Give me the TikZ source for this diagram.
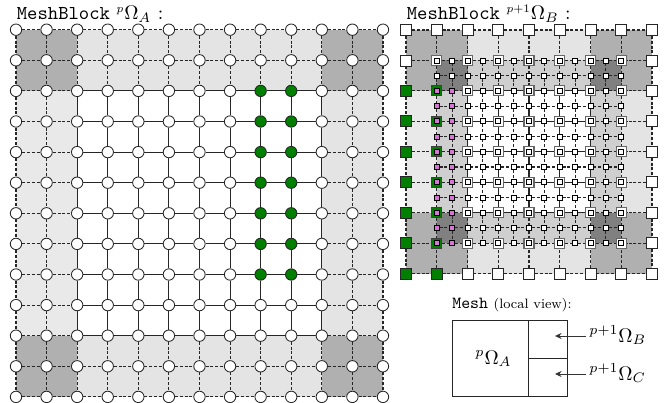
\documentclass[tikz,border=0pt]{standalone}
\usetikzlibrary{arrows.meta}
\pgfdeclarelayer{fills}
\pgfdeclarelayer{lines}
\pgfsetlayers{fills,lines,main}
\definecolor{gband}{HTML}{E4E4E4}
\definecolor{gside}{HTML}{E9E9E9}
\definecolor{gcorner}{HTML}{B0B0B0}
\definecolor{gmid}{HTML}{CFCFCF}
\definecolor{gdark}{HTML}{808080}
\definecolor{mgreen}{HTML}{007F00}
\definecolor{mpink}{HTML}{D874D8}
\tikzset{
  x=1pt,y=-1pt,
  solidline/.style={line width=1.1pt,draw=black!85},
  dashline/.style={line width=1.1pt,draw=black!85,dash pattern=on 3pt off 1.8pt},
  circ/.style={circle,draw=black!85,fill=white,line width=0.85pt,minimum size=11.4pt,inner sep=0pt},
  circgreen/.style={circ,fill=mgreen},
  bigsq/.style={rectangle,draw=black!85,fill=white,line width=0.85pt,minimum size=11pt,inner sep=0pt},
  bigsqgreen/.style={bigsq,fill=mgreen},
  ringsq/.style={rectangle,draw=black!60,fill=white,line width=1.2pt,minimum size=10pt,inner sep=0pt},
  ringsqgreen/.style={ringsq,draw=black!75,fill=mgreen},
  smallsq/.style={rectangle,draw=black,fill=white,line width=0.8pt,minimum size=5pt,inner sep=0pt},
  smallsqpink/.style={smallsq,fill=mpink},
  titletext/.style={anchor=base west,scale=1.97,inner sep=0pt},
  boxline/.style={draw=black!85,line width=1.1pt,minimum width=#1,inner sep=0pt},
  pointer/.style={line width=0.9pt,draw=black!80,-{Stealth[length=6.5pt,width=6pt]}},
}
% coordinates of the grids
\newcommand{\LX}[1]{\fpeval{16+30.58*(#1)}}
\newcommand{\LY}[1]{\fpeval{29.7+30.6*(#1)}}
\newcommand{\RX}[1]{\fpeval{406+30.75*(#1)}}
\newcommand{\RY}[1]{\fpeval{30+30.45*(#1)}}
\newcommand{\lcell}[5]{\fill[#5] (\LX{#1},\LY{#2}) rectangle (\LX{#3},\LY{#4});}
\newcommand{\rcell}[5]{\fill[#5] (\RX{#1},\RY{#2}) rectangle (\RX{#3},\RY{#4});}
\newcommand{\smsup}[1]{^{\scalebox{.83}{$\scriptstyle #1$}}}
\begin{document}
\begin{tikzpicture}
\useasboundingbox (0,0) rectangle (668,403);
% ---------- left block fills
\begin{pgfonlayer}{fills}
\fill[white] (0,0) rectangle (668,403);
\lcell{2}{0}{10}{2}{gband}
\lcell{2}{10}{10}{12}{gband}
\lcell{10}{2}{12}{10}{gband}
\lcell{0}{2}{2}{10}{gside}
\lcell{0}{0}{2}{2}{gcorner}
\lcell{10}{0}{12}{2}{gcorner}
\lcell{0}{10}{2}{12}{gcorner}
\lcell{10}{10}{12}{12}{gcorner}
% ---------- right block fills
\rcell{2}{0}{6}{2}{gband}
\rcell{2}{6}{6}{8}{gband}
\rcell{6}{2}{8}{6}{gband}
\rcell{0}{2}{2}{6}{gside}
\rcell{0}{0}{2}{2}{gcorner}
\rcell{6}{0}{8}{2}{gcorner}
\rcell{0}{6}{2}{8}{gcorner}
\rcell{6}{6}{8}{8}{gcorner}
\rcell{2}{1}{6}{2}{gmid}
\rcell{2}{6}{6}{7}{gmid}
\rcell{1}{2}{2}{6}{gmid}
\rcell{6}{2}{7}{6}{gmid}
\rcell{1}{1}{2}{2}{gdark}
\rcell{6}{1}{7}{2}{gdark}
\rcell{1}{6}{2}{7}{gdark}
\rcell{6}{6}{7}{7}{gdark}
\end{pgfonlayer}
% ---------- left block nodes
\foreach \i in {0,...,12}{\foreach \j in {0,...,12}{
  \def\sty{circ}
  \ifnum\i=8 \ifnum\j>1 \ifnum\j<9 \def\sty{circgreen}\fi\fi\fi
  \ifnum\i=9 \ifnum\j>1 \ifnum\j<9 \def\sty{circgreen}\fi\fi\fi
  \node[\sty] (a-\i-\j) at (\LX{\i},\LY{\j}) {};
}}
% left block connectors
\begin{pgfonlayer}{lines}
\foreach \i in {0,...,12}{\foreach \j in {0,...,11}{
  \pgfmathtruncatemacro\nx{\j+1}
  \def\sty{dashline}
  \ifnum\i>1 \ifnum\i<11 \ifnum\j>1 \ifnum\j<10 \def\sty{solidline}\fi\fi\fi\fi
  \draw[\sty] (a-\j-\i) -- (a-\nx-\i);
  \draw[\sty] (a-\i-\j) -- (a-\i-\nx);
}}
\end{pgfonlayer}
% ---------- right block: coarse nodes on the rim
\foreach \i in {0,...,8}{\foreach \j in {0,...,8}{
  \def\rim{1}
  \ifnum\i>0 \ifnum\i<8 \ifnum\j>0 \ifnum\j<8 \def\rim{0}\fi\fi\fi\fi
  \ifnum\rim=1
    \def\sty{bigsq}
    \ifnum\j>1 \ifnum\i<2 \def\sty{bigsqgreen}\fi\fi
    \node[\sty] (c-\i-\j) at (\RX{\i},\RY{\j}) {};
  \fi
}}
% right block: fine nodes (indices 0..12, one coarse cell in from the rim)
\foreach \i in {0,...,12}{\foreach \j in {0,...,12}{
  \pgfmathtruncatemacro\cx{\i+2}
  \pgfmathtruncatemacro\cy{\j+2}
  \pgfmathtruncatemacro\evn{(mod(\i,2)==0)&&(mod(\j,2)==0)}
  \def\sty{smallsq}\def\ring{ringsq}
  \ifnum\j>1 \ifnum\i<2 \def\sty{smallsqpink}\def\ring{ringsqgreen}\fi\fi
  \ifnum\evn=1
    \node[\ring] (f-\i-\j) at (\RX{\cx/2},\RY{\cy/2}) {};
    \node[\sty] (fi-\i-\j) at (f-\i-\j.center) {};
  \else
    \node[\sty] (f-\i-\j) at (\RX{\cx/2},\RY{\cy/2}) {};
  \fi
}}
% right block connectors
\begin{pgfonlayer}{lines}
\foreach \a/\b in {0/1,1/2,2/3,3/4,4/5,5/6,6/7,7/8}{
  \draw[dashline] (c-\a-0) -- (c-\b-0);
  \draw[dashline] (c-\a-8) -- (c-\b-8);
  \draw[dashline] (c-0-\a) -- (c-0-\b);
  \draw[dashline] (c-8-\a) -- (c-8-\b);
}
\foreach \c/\f in {1/0,2/2,3/4,4/6,5/8,6/10,7/12}{
  \draw[dashline] (c-0-\c) -- (f-0-\f);
  \draw[dashline] (c-8-\c) -- (f-12-\f);
  \draw[dashline] (c-\c-0) -- (f-\f-0);
  \draw[dashline] (c-\c-8) -- (f-\f-12);
}
\foreach \i in {0,...,12}{\foreach \j in {0,...,11}{
  \pgfmathtruncatemacro\nx{\j+1}
  \pgfmathtruncatemacro\odd{mod(\i,2)}
  \def\sty{dashline}
  \ifnum\odd=0 \ifnum\i>1 \ifnum\i<11 \ifnum\j>1 \ifnum\j<10 \def\sty{solidline}\fi\fi\fi\fi\fi
  \draw[\sty] (f-\j-\i) -- (f-\nx-\i);
  \draw[\sty] (f-\i-\j) -- (f-\i-\nx);
}}
\end{pgfonlayer}
% ---------- titles
\node[titletext] (titleA) at (16.5,19.5) {\texttt{MeshBlock} $\smsup{p}\Omega_{A}$ :};
\node[titletext] (titleB) at (406.5,19.5) {\texttt{MeshBlock} $\smsup{p+1}\Omega_{B}$ :};
% ---------- local view
\node[anchor=base west,inner sep=0pt,scale=1.7] (titleM) at (452,308) {\texttt{Mesh} {\footnotesize(local view):}};
\node[boxline=76.5pt,minimum height=76.5pt] (boxA) at (490.5,358.5) {};
\node[boxline=38.5pt,minimum height=38.25pt] (boxB) at (548,339.4) {};
\node[boxline=38.5pt,minimum height=38.25pt] (boxC) at (548,377.6) {};
\node[anchor=base west,inner sep=0pt,scale=1.97] (labA) at (475,364) {$^{p}\Omega_{A}$};
\node[anchor=base west,inner sep=0pt,scale=1.97] (labB) at (589,342) {$^{p+1}\Omega_{B}$};
\node[anchor=base west,inner sep=0pt,scale=1.97] (labC) at (589,380) {$^{p+1}\Omega_{C}$};
\coordinate (tipB) at (555,336);
\coordinate (tipC) at (555,374);
\coordinate (tailB) at (586,336);
\coordinate (tailC) at (586,374);
\draw[pointer] (tailB) -- (tipB);
\draw[pointer] (tailC) -- (tipC);
\end{tikzpicture}
\end{document}
